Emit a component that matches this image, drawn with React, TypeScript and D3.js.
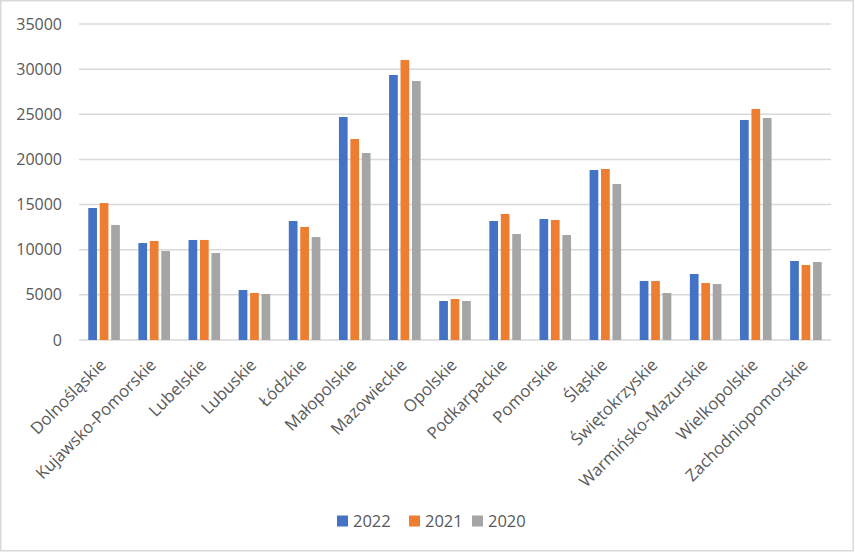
import React, { useEffect, useRef } from 'react';
import * as d3 from 'd3';

const categories = [
  'Dolnośląskie', 'Kujawsko-Pomorskie', 'Lubelskie', 'Lubuskie', 'Łódzkie',
  'Małopolskie', 'Mazowieckie', 'Opolskie', 'Podkarpackie', 'Pomorskie',
  'Śląskie', 'Świętokrzyskie', 'Warmińsko-Mazurskie', 'Wielkopolskie', 'Zachodniopomorskie',
];

const seriesNames = ['2022', '2021', '2020'];
const seriesColors = ['#4472C4', '#ED7D31', '#A5A5A5'];

const values2022 = [14620, 10740, 11080, 5540, 13180, 24700, 29350, 4320, 13180, 13400, 18830, 6540, 7310, 24370, 8750];
const values2021 = [15170, 10970, 11080, 5210, 12520, 22260, 31010, 4540, 13960, 13290, 18940, 6540, 6310, 25590, 8310];
const values2020 = [12740, 9860, 9640, 5100, 11410, 20710, 28690, 4320, 11740, 11630, 17280, 5210, 6200, 24590, 8640];

const yTicks = [0, 5000, 10000, 15000, 20000, 25000, 30000, 35000];

const W = 855;
const H = 552;
const FONT = '"Open Sans", "Liberation Sans", sans-serif';
const TEXT = '#595959';
const GRID = '#D9D9D9';

const App: React.FC = () => {
  const svgRef = useRef<SVGSVGElement>(null);

  useEffect(() => {
    if (!svgRef.current) return;
    const svg = d3.select(svgRef.current);
    svg.selectAll('*').remove();

    const left = 79;
    const right = 831;
    const top = 24;
    const bottom = 340;

    const y = d3.scaleLinear().domain([0, 35000]).range([bottom, top]);
    const x0 = d3.scaleBand<string>().domain(categories).range([left, right])
      .paddingInner(0.37).paddingOuter(0.185);
    const x1 = d3.scaleBand<string>().domain(seriesNames).range([0, x0.bandwidth()])
      .paddingInner(0.24);

    const allValues = [values2022, values2021, values2020];

    // chart border
    svg.append('rect')
      .attr('x', 0.75).attr('y', 0.75)
      .attr('width', W - 2.5).attr('height', H - 2)
      .attr('fill', '#fff').attr('stroke', GRID).attr('stroke-width', 1.5);

    // gridlines
    svg.append('g').selectAll('line')
      .data(yTicks)
      .enter()
      .append('line')
      .attr('x1', left).attr('x2', right)
      .attr('y1', d => y(d)).attr('y2', d => y(d))
      .attr('stroke', GRID).attr('stroke-width', 1.5);

    // y labels
    svg.append('g').selectAll('text')
      .data(yTicks)
      .enter()
      .append('text')
      .attr('x', 62)
      .attr('y', d => y(d))
      .attr('dy', '0.35em')
      .attr('text-anchor', 'end')
      .style('font-family', FONT)
      .style('font-size', '16px')
      .style('fill', TEXT)
      .text(d => String(d));

    // bars
    const groups = svg.append('g').selectAll('g')
      .data(categories)
      .enter()
      .append('g')
      .attr('transform', d => `translate(${x0(d)},0)`);

    groups.selectAll('rect')
      .data((_, i) => seriesNames.map((s, si) => ({ s, si, v: allValues[si][i] })))
      .enter()
      .append('rect')
      .attr('x', d => x1(d.s) as number)
      .attr('width', x1.bandwidth())
      .attr('y', d => y(d.v))
      .attr('height', d => y(0) - y(d.v))
      .attr('fill', d => seriesColors[d.si]);

    // category labels
    svg.append('g').selectAll('text')
      .data(categories)
      .enter()
      .append('text')
      .attr('transform', d => `translate(${(x0(d) as number) + x0.bandwidth() / 2 + 3},${366}) rotate(-45)`)
      .attr('text-anchor', 'end')
      .style('font-family', FONT)
      .style('font-size', '16.7px')
      .style('fill', TEXT)
      .text(d => d);

    // legend
    const legendX = [337, 409, 472];
    const legend = svg.append('g').selectAll('g')
      .data(seriesNames)
      .enter()
      .append('g')
      .attr('transform', (_, i) => `translate(${legendX[i]},521)`);

    legend.append('rect')
      .attr('x', 0).attr('y', -5.5)
      .attr('width', 11).attr('height', 11)
      .attr('fill', (_, i) => seriesColors[i]);

    legend.append('text')
      .attr('x', 16)
      .attr('dy', '0.35em')
      .style('font-family', FONT)
      .style('font-size', '16.5px')
      .style('fill', TEXT)
      .text(d => d);
  }, []);

  return (
    <div style={{ position: 'absolute', left: 0, top: 0 }}>
      <svg ref={svgRef} width={W} height={H} style={{ display: 'block' }} />
    </div>
  );
};

export default App;
